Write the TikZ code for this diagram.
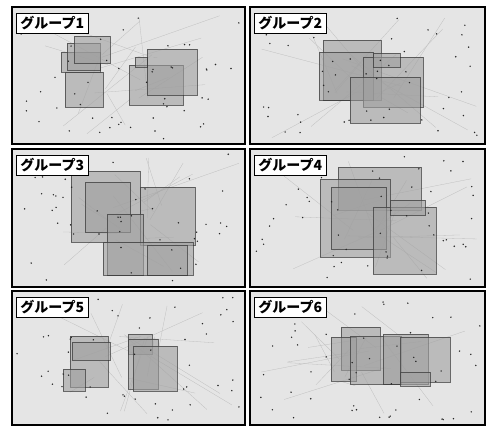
\documentclass[tikz,border=0pt]{standalone}
\usepackage{fontspec}
\setmainfont{Noto Sans CJK JP}
\begin{document}
\begin{tikzpicture}[x=1pt, y=-1pt,
    panel/.style={draw=black, line width=1.3pt, fill=gray!20},
    grouplabel/.style={draw=black, line width=0.9pt, fill=white, inner xsep=4pt, inner ysep=3pt,
      anchor=north west, font=\bfseries\fontsize{14}{14}\selectfont},
    tile/.style={draw=gray!40!black, line width=0.6pt, draw opacity=0.7,
      fill=gray!75, fill opacity=0.6},
    link/.style={gray!50, line width=0.3pt}]

  \useasboundingbox (0,0) rectangle (486,426);
  \fill[white] (0,0) rectangle (486,426);

  % Панели
  \foreach \xa/\ya/\xb/\yb in {12/7/245/144, 250/7/485/144, 12/149/245/287,
                               250/149/485/287, 12/291/245/425, 250/291/485/425}
    \draw[panel] (\xa,\ya) rectangle (\xb,\yb);

  % Связи
  \pgfmathsetseed{17}
  \foreach \xa/\ya/\xb/\yb in {12/7/245/144, 250/7/485/144, 12/149/245/287,
                               250/149/485/287, 12/291/245/425, 250/291/485/425}
    \foreach \i in {1,...,16} {
      \pgfmathsetmacro\pxa{\xa+6+rnd*(\xb-\xa-12)}
      \pgfmathsetmacro\pya{\ya+6+rnd*(\yb-\ya-12)}
      \pgfmathsetmacro\pxb{(\xa+\xb)/2+(rnd-0.5)*70}
      \pgfmathsetmacro\pyb{(\ya+\yb)/2+(rnd-0.5)*50}
      \draw[link] (\pxa,\pya) -- (\pxb,\pyb);
    }

  % Группы
  \foreach \xa/\ya/\xb/\yb in {61/52/100/72, 67/43/100/70, 74/36/110/63, 65/72/103/107,
                               129/65/183/105, 147/49/197/95, 135/57/147/67}
    \draw[tile] (\xa,\ya) rectangle (\xb,\yb);
  \foreach \xa/\ya/\xb/\yb in {323/40/381/100, 319/52/373/100, 363/57/423/107,
                               350/77/420/123, 373/53/400/67}
    \draw[tile] (\xa,\ya) rectangle (\xb,\yb);
  \foreach \xa/\ya/\xb/\yb in {71/171/140/242, 85/182/130/232, 140/187/195/245,
                               107/214/143/275, 103/242/193/275, 147/245/187/275}
    \draw[tile] (\xa,\ya) rectangle (\xb,\yb);
  \foreach \xa/\ya/\xb/\yb in {338/167/421/210, 320/179/390/257, 331/187/386/249,
                               373/207/436/274, 390/200/425/215}
    \draw[tile] (\xa,\ya) rectangle (\xb,\yb);
  \foreach \xa/\ya/\xb/\yb in {70/336/108/387, 72/342/110/360, 63/369/85/391,
                               128/334/152/354, 128/339/158/389, 133/346/177/391}
    \draw[tile] (\xa,\ya) rectangle (\xb,\yb);
  \foreach \xa/\ya/\xb/\yb in {341/327/380/370, 331/337/356/381, 350/336/401/384,
                               383/334/428/384, 400/337/450/382, 400/372/430/386}
    \draw[tile] (\xa,\ya) rectangle (\xb,\yb);

  % Точки
  \foreach \xa/\ya/\xb/\yb in {12/7/245/144, 250/7/485/144, 12/149/245/287,
                               250/149/485/287, 12/291/245/425, 250/291/485/425}
    \foreach \i in {1,...,50} {
      \pgfmathsetmacro\px{\xa+5+rnd*(\xb-\xa-10)}
      \pgfmathsetmacro\py{\ya+5+rnd*(\yb-\ya-10)}
      \fill[black!85] (\px,\py) circle (0.8);
    }

  % Подписи
  \node[grouplabel] (g1) at (16,13)  {グループ1};
  \node[grouplabel] (g2) at (254,13) {グループ2};
  \node[grouplabel] (g3) at (16,155) {グループ3};
  \node[grouplabel] (g4) at (254,155) {グループ4};
  \node[grouplabel] (g5) at (16,297) {グループ5};
  \node[grouplabel] (g6) at (254,297) {グループ6};
\end{tikzpicture}
\end{document}
